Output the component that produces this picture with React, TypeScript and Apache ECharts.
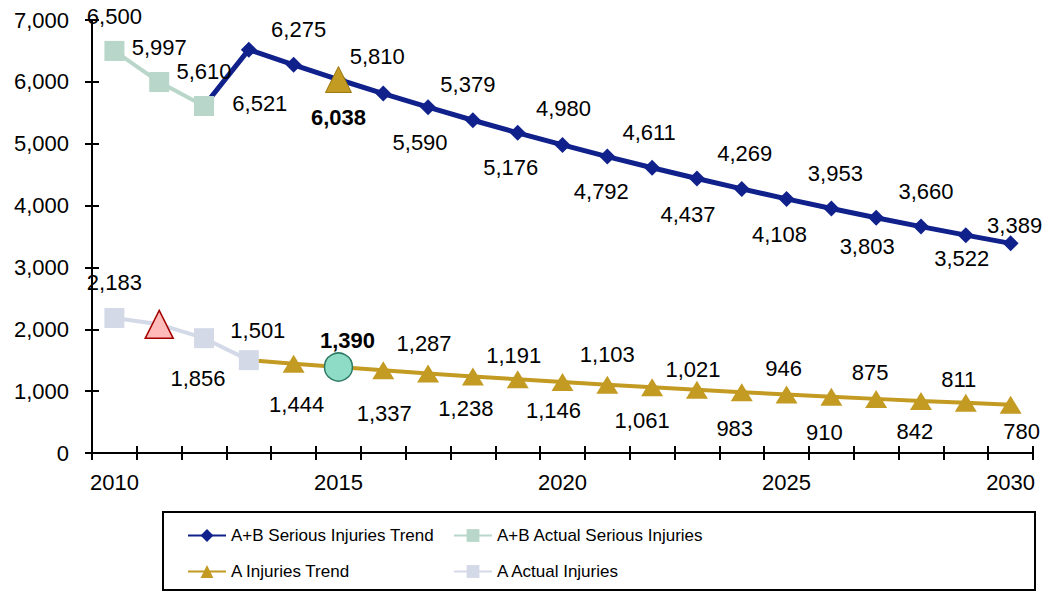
import React, { useEffect, useRef } from "react";
import * as echarts from "echarts";

const years = ["2010","2011","2012","2013","2014","2015","2016","2017","2018","2019","2020","2021","2022","2023","2024","2025","2026","2027","2028","2029","2030"];
const yTicks = [0, 1000, 2000, 3000, 4000, 5000, 6000, 7000];

const abActual = [6500, 5997, 5610, null, null, null, null, null, null, null, null, null, null, null, null, null, null, null, null, null, null];
const abTrend = [null, null, 5610, 6521, 6275, 6038, 5810, 5590, 5379, 5176, 4980, 4792, 4611, 4437, 4269, 4108, 3953, 3803, 3660, 3522, 3389];
const aActual = [2183, 2080, 1856, 1501, null, null, null, null, null, null, null, null, null, null, null, null, null, null, null, null, null];
const aTrend = [null, null, null, 1501, 1444, 1390, 1337, 1287, 1238, 1191, 1146, 1103, 1061, 1021, 983, 946, 910, 875, 842, 811, 780];
const abTarget2015 = 6038;
const aTarget2015 = 1390;

// label layout (side of the point, gap from point to label centre, horizontal shift)
const abActualSide = ["t","t","t","","","","","","","","","","","","","","","","","",""];
const abActualGap = [34,35,34,0,0,0,0,0,0,0,0,0,0,0,0,0,0,0,0,0,0];
const abTrendSide = ["","","n","b","t","n","t","b","t","b","t","b","t","b","t","b","t","b","t","b","t"];
const abTrendGap = [0,0,0,54,35,0,37,35,36,35,36,35,35,36,35,36,35,29,35,23,18];
const abTrendDx = [0,0,0,11,5,0,-6,-8,-5,-7,1,-6,-3,-9,3,-7,4,-9,5,-4,4];
const aActualSide = ["t","n","b","t","","","","","","","","","","","","","","","","",""];
const aActualGap = [35,0,40,30,0,0,0,0,0,0,0,0,0,0,0,0,0,0,0,0,0];
const aActualDx = [0,0,-6,9,0,0,0,0,0,0,0,0,0,0,0,0,0,0,0,0,0];
const aTrendSide = ["","","","n","b","n","b","t","b","t","b","t","b","t","b","t","b","t","b","t","b"];
const aTrendGap = [0,0,0,0,41,0,43,30,32,24,28,30,33,20,36,26,36,26,31,23,27];
const aTrendDx = [0,0,0,0,3,0,1,-4,-7,-4,-9,0,-10,-4,-7,-3,-7,-6,-6,-7,11];

const FONT = '"Liberation Sans", Arial, sans-serif';
const NAVY = "#11218c";
const SAGE = "#b8d6c9";
const GOLD = "#c39a22";
const LAV = "#d4d9e8";

const fmt = (v: number) => v.toLocaleString("en-US");

function build(values: (number | null)[], side: string[], gap: number[], dx?: number[]) {
  return values.map((v, i) => {
    if (v == null) return "-";
    const s = side[i];
    if (s === "t" || s === "b") {
      return {
        value: v,
        label: {
          show: true,
          position: "inside",
          offset: [dx ? dx[i] : 0, s === "t" ? -gap[i] : gap[i]],
        },
      };
    }
    return { value: v, label: { show: false } };
  });
}

const labelBase = {
  show: true,
  color: "#000",
  fontFamily: FONT,
  fontSize: 22,
  formatter: (p: any) => fmt(p.value),
};

export default function App() {
  const ref = useRef<HTMLDivElement>(null);
  useEffect(() => {
    if (!ref.current) return;
    const chart = echarts.init(ref.current, null, { renderer: "svg" });

    const abTrendData: any[] = build(abTrend, abTrendSide, abTrendGap, abTrendDx);
    abTrendData[2] = { ...abTrendData[2], symbol: "none" };
    const aTrendData: any[] = build(aTrend, aTrendSide, aTrendGap, aTrendDx);
    aTrendData[3] = { ...aTrendData[3], symbol: "none" };
    const aActualData: any[] = build(aActual, aActualSide, aActualGap, aActualDx);
    aActualData[1] = {
      ...aActualData[1],
      symbol: "triangle",
      symbolSize: [28, 28],
      itemStyle: { color: "#ffbaba", borderColor: "#a30000", borderWidth: 1.5 },
    };

    const abTargetData = years.map((y, i) => (i === 5 ? abTarget2015 : "-"));
    const aTargetData = years.map((y, i) => (i === 5 ? aTarget2015 : "-"));

    const axisLineStyle = { color: "#000", width: 2 };
    const legendText = { fontFamily: FONT, fontSize: 17, color: "#000" };
    const legendCommon = { itemWidth: 38, itemHeight: 16, itemGap: 0, textStyle: legendText, padding: 0 };

    chart.setOption({
      animation: false,
      grid: { left: 92, right: 15, top: 20, bottom: 140, containLabel: false },
      xAxis: [
        {
          type: "category",
          data: years,
          boundaryGap: true,
          axisLine: { show: true, lineStyle: axisLineStyle },
          axisTick: { show: true, interval: 0, length: 7, lineStyle: axisLineStyle },
          axisLabel: { interval: 4, color: "#000", fontFamily: FONT, fontSize: 22, margin: 18 },
          splitLine: { show: false },
        },
        {
          type: "category",
          data: years,
          boundaryGap: true,
          position: "bottom",
          axisLine: { show: false },
          axisTick: { show: true, inside: true, interval: 0, length: 7, lineStyle: axisLineStyle },
          axisLabel: { show: false },
          splitLine: { show: false },
        },
      ],
      yAxis: [
        {
          type: "value",
          min: yTicks[0],
          max: yTicks[yTicks.length - 1],
          interval: 1000,
          axisLine: { show: true, lineStyle: axisLineStyle },
          axisTick: { show: true, length: 7, lineStyle: axisLineStyle },
          axisLabel: { color: "#000", fontFamily: FONT, fontSize: 22, margin: 23, formatter: (v: number) => fmt(v) },
          splitLine: { show: false },
        },
        {
          type: "value",
          position: "left",
          min: yTicks[0],
          max: yTicks[yTicks.length - 1],
          interval: 1000,
          axisLine: { show: false },
          axisTick: { show: true, inside: true, length: 7, lineStyle: axisLineStyle },
          axisLabel: { show: false },
          splitLine: { show: false },
        },
      ],
      legend: [
        { ...legendCommon, data: ["A+B Serious Injuries Trend"], left: 187, top: 527 },
        { ...legendCommon, data: ["A+B Actual Serious Injuries"], left: 453, top: 527 },
        { ...legendCommon, data: ["A Injuries Trend"], left: 187, top: 563 },
        { ...legendCommon, data: ["A Actual Injuries"], left: 453, top: 563 },
      ],
      graphic: [
        {
          type: "rect",
          shape: { x: 163, y: 512, width: 872, height: 78 },
          style: { fill: "none", stroke: "#000", lineWidth: 2 },
          silent: true,
        },
      ],
      series: [
        {
          name: "A+B Serious Injuries Trend",
          type: "line",
          data: abTrendData,
          symbol: "diamond",
          symbolSize: 16,
          itemStyle: { color: NAVY },
          lineStyle: { color: NAVY, width: 5 },
          label: labelBase,
          z: 2,
        },
        {
          name: "A+B Actual Serious Injuries",
          type: "line",
          data: build(abActual, abActualSide, abActualGap),
          symbol: "rect",
          symbolSize: 20,
          itemStyle: { color: SAGE },
          lineStyle: { color: SAGE, width: 4 },
          label: labelBase,
          z: 3,
        },
        {
          name: "A Injuries Trend",
          type: "line",
          data: aTrendData,
          symbol: "triangle",
          symbolSize: [22, 18],
          itemStyle: { color: GOLD },
          lineStyle: { color: GOLD, width: 4 },
          label: labelBase,
          z: 2,
        },
        {
          name: "A Actual Injuries",
          type: "line",
          data: aActualData,
          symbol: "rect",
          symbolSize: 20,
          itemStyle: { color: LAV },
          lineStyle: { color: LAV, width: 4 },
          label: labelBase,
          z: 3,
        },
        {
          name: "A+B Target 2015",
          type: "line",
          data: abTargetData,
          symbol: "triangle",
          symbolSize: 26,
          itemStyle: { color: GOLD, borderColor: "#9c7a12", borderWidth: 1 },
          lineStyle: { width: 0 },
          label: { ...labelBase, fontWeight: "bold", position: "inside", offset: [0, 38] },
          z: 4,
        },
        {
          name: "A Target 2015",
          type: "line",
          data: aTargetData,
          symbol: "circle",
          symbolSize: 28,
          itemStyle: { color: "#8edcc6", borderColor: "#2c7a64", borderWidth: 1.5 },
          lineStyle: { width: 0 },
          label: { ...labelBase, fontWeight: "bold", position: "inside", offset: [9, -27] },
          z: 4,
        },
      ],
    });
    return () => chart.dispose();
  }, []);
  return (
    <div
      ref={ref}
      style={{ position: "fixed", left: 0, top: 0, width: 1048, height: 593, background: "#fff" }}
    />
  );
}
